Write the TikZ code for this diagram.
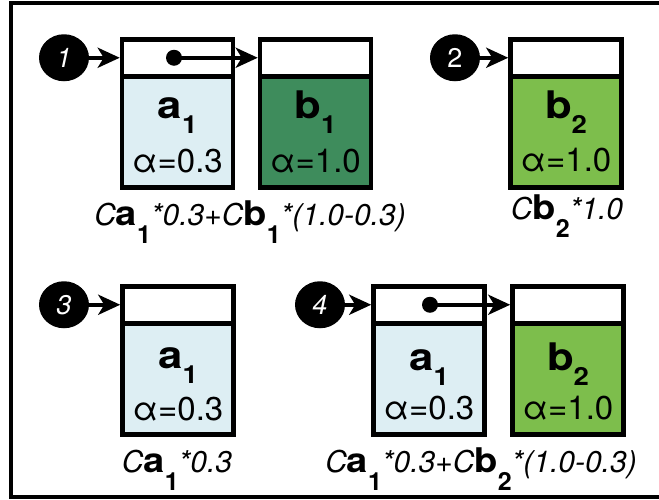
\documentclass[tikz,border=0pt]{standalone}
\usepackage{fontspec}
\setmainfont{TeX Gyre Heros}
\usetikzlibrary{arrows.meta,shapes.geometric}
\definecolor{lblue}{HTML}{DDEEF3}
\definecolor{dgreen}{HTML}{3E8C5C}
\definecolor{lgreen}{HTML}{7DBE4C}
\newcommand{\bsub}[2]{\scalebox{1.15}[1]{\fontsize{38}{38}\selectfont\bfseries #1}\raisebox{-15pt}{\scalebox{1.1}[1]{\fontsize{25}{25}\selectfont\bfseries #2}}}
\newcommand{\lsub}[2]{\scalebox{1.12}[1]{\fontsize{34}{34}\selectfont\bfseries\upshape #1}\raisebox{-18pt}{\fontsize{25}{25}\selectfont\bfseries\upshape #2}}
\newcommand{\alab}[1]{{\fontsize{33}{33}\selectfont α=#1}}
\begin{document}
\begin{tikzpicture}[x=1pt,y=-1pt,
  frame/.style={line width=3.5pt},
  top/.style={draw, line width=4.5pt, fill=white, minimum width=111pt, minimum height=37pt, inner sep=0pt, anchor=north},
  body/.style={draw, line width=4.5pt, minimum width=111pt, minimum height=111pt, inner sep=0pt, anchor=north},
  num/.style={ellipse, fill=black, minimum width=50pt, minimum height=47pt, inner sep=0pt, text=white, font=\fontsize{27}{27}\selectfont\itshape},
  intxt/.style={anchor=base, inner sep=0pt},
  lab/.style={anchor=base, inner sep=0pt, font=\fontsize{30}{30}\selectfont\itshape},
  arr/.style={line width=4.5pt, -{Stealth[length=22pt,width=20pt,inset=6pt]}},
  dot/.style={circle, fill=black, minimum size=16pt, inner sep=0pt}]
\useasboundingbox (0,0) rectangle (659,499);
\fill[white] (0,0) rectangle (659,499);
\draw[frame] (660,3) -- (11,3) -- (11,497) -- (660,497);

% ---- group 1
\node[top] (a1t) at (177.5,37) {};
\node[body, fill=lblue] (a1b) at (177.5,74) {};
\node[top] (b1t) at (315.5,37) {};
\node[body, fill=dgreen] (b1b) at (315.5,74) {};
\node[intxt] (a1n) at (177.5,118) {\bsub{a}{1}};
\node[intxt] (a1v) at (177.5,172) {\alab{0.3}};
\node[intxt] (b1n) at (315.5,118) {\bsub{b}{1}};
\node[intxt] (b1v) at (315.5,172) {\alab{1.0}};
\node[num] (n1) at (64,57.75) {1};
\draw[arr] (n1.east) -- (a1t.west);
\node[dot] (p1) at (174,57.75) {};
\draw[arr] (p1.center) -- (b1t.west);
\node[lab] (l1) at (250,225) {C\lsub{a}{1}*0.3+C\lsub{b}{1}*(1.0-0.3)};

% ---- group 2
\node[top] (b2t) at (566,37) {};
\node[body, fill=lgreen] (b2b) at (566,74) {};
\node[intxt] (b2n) at (566,118) {\bsub{b}{2}};
\node[intxt] (b2v) at (566,171) {\alab{1.0}};
\node[num, font=\fontsize{27}{27}\selectfont] (n2) at (455,57.75) {2};
\draw[arr] (n2.east) -- (b2t.west);
\node[lab] (l2) at (567,219) {C\lsub{b}{2}*1.0};

% ---- group 3
\node[top] (a3t) at (178,284) {};
\node[body, fill=lblue] (a3b) at (178,321) {};
\node[intxt] (a3n) at (178,368) {\bsub{a}{1}};
\node[intxt] (a3v) at (178,420) {\alab{0.3}};
\node[num] (n3) at (64,304.75) {3};
\draw[arr] (n3.east) -- (a3t.west);
\node[lab] (l3) at (177,472) {C\lsub{a}{1}*0.3};

% ---- group 4
\node[top] (a4t) at (429,284) {};
\node[body, fill=lblue] (a4b) at (429,321) {};
\node[top] (b4t) at (568,284) {};
\node[body, fill=lgreen] (b4b) at (568,321) {};
\node[intxt] (a4n) at (429,370) {\bsub{a}{1}};
\node[intxt] (a4v) at (429,419) {\alab{0.3}};
\node[intxt] (b4n) at (568,370) {\bsub{b}{2}};
\node[intxt] (b4v) at (568,419) {\alab{1.0}};
\node[num] (n4) at (320,304.75) {4};
\draw[arr] (n4.east) -- (a4t.west);
\node[dot] (p4) at (430,304.75) {};
\draw[arr] (p4.center) -- (b4t.west);
\node[lab] (l4) at (481,472) {C\lsub{a}{1}*0.3+C\lsub{b}{2}*(1.0-0.3)};
\end{tikzpicture}
\end{document}
